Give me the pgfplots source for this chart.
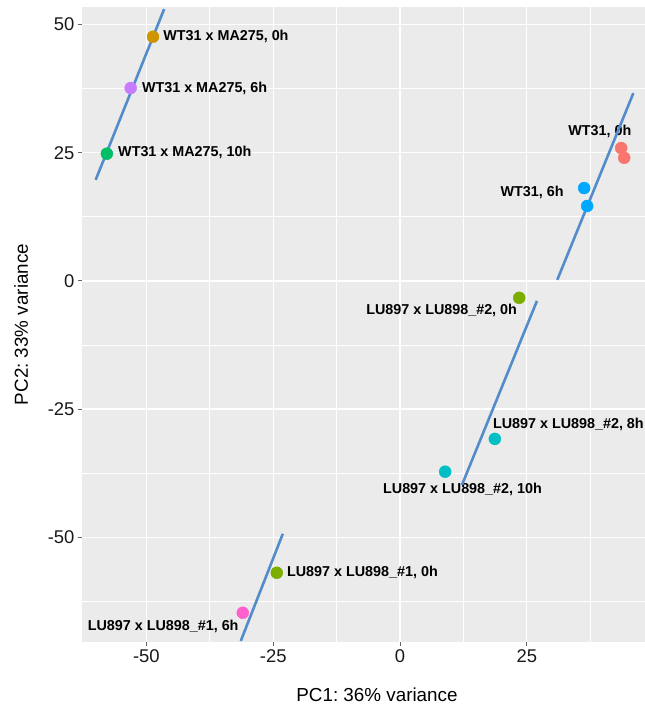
\documentclass[border=0pt]{standalone}
\usepackage{pgfplots}
\pgfplotsset{compat=1.18}
\usepackage{fontspec}
\setmainfont{Liberation Sans}
\frenchspacing
\definecolor{ggbg}{HTML}{EBEBEB}
\definecolor{cSalmon}{HTML}{F8766D}
\definecolor{cBlue}{HTML}{00A9FF}
\definecolor{cOrange}{HTML}{CD9600}
\definecolor{cPurple}{HTML}{C77CFF}
\definecolor{cGreen}{HTML}{00BE67}
\definecolor{cOlive}{HTML}{7CAE00}
\definecolor{cCyan}{HTML}{00BFC4}
\definecolor{cPink}{HTML}{FF61CC}
\definecolor{lineblue}{HTML}{548BCB}
\begin{document}
\begin{tikzpicture}
\useasboundingbox (-82bp,-64bp) rectangle (563bp,642bp);
\begin{axis}[
  scale only axis,
  width=563bp, height=635bp,
  xmin=-62.7, xmax=48.3,
  ymin=-70.4, ymax=53.4,
  axis background/.style={fill=ggbg},
  axis line style={draw=none},
  xtick={-50,-25,0,25},
  ytick={-50,-25,0,25,50},
  minor xtick={-37.5,-12.5,12.5,37.5},
  minor ytick={-62.5,-37.5,-12.5,12.5,37.5},
  grid=both,
  major grid style={white, line width=1.3bp},
  minor grid style={white, line width=0.7bp},
  tick align=outside,
  major tick length=4bp,
  minor tick length=0pt,
  tick style={color=black!60, line width=0.8bp},
  xtick pos=bottom, ytick pos=left,
  /pgf/number format/assume math mode=true,
  tick label style={font=\fontsize{18.5}{21}\selectfont, text=black!90},
  xlabel={PC1:\ 36\%\ variance},
  ylabel={PC2:\ 33\%\ variance},
  xlabel style={at={(axis description cs:0.524,-0.0715)}, anchor=north, inner sep=0pt, font=\fontsize{18.9}{21}\selectfont},
  ylabel style={at={(axis description cs:-0.0955,0.5)}, anchor=south, inner sep=0pt, font=\fontsize{18.9}{21}\selectfont},
  clip=true,
]
% points
\addplot[only marks, mark=*, mark size=6bp, color=cOrange, fill=cOrange] coordinates {(-48.7,47.6)};
\addplot[only marks, mark=*, mark size=6bp, color=cPurple, fill=cPurple] coordinates {(-53.1,37.6)};
\addplot[only marks, mark=*, mark size=6bp, color=cGreen, fill=cGreen] coordinates {(-57.8,24.8)};
\addplot[only marks, mark=*, mark size=6bp, color=cSalmon, fill=cSalmon] coordinates {(43.6,25.9) (44.2,24.0)};
\addplot[only marks, mark=*, mark size=6bp, color=cBlue, fill=cBlue] coordinates {(36.3,18.1) (36.9,14.6)};
\addplot[only marks, mark=*, mark size=6bp, color=cOlive, fill=cOlive] coordinates {(23.5,-3.3) (-24.3,-56.9)};
\addplot[only marks, mark=*, mark size=6bp, color=cCyan, fill=cCyan] coordinates {(18.7,-30.8) (8.9,-37.2)};
\addplot[only marks, mark=*, mark size=6bp, color=cPink, fill=cPink] coordinates {(-31.0,-64.7)};
% labels
\begin{scope}[every node/.style={inner sep=0pt, font=\fontsize{14.4}{16}\selectfont\bfseries}]
\node[anchor=west] at (axis cs:-46.7,47.6) {WT31 x MA275, 0h};
\node[anchor=west] at (axis cs:-50.9,37.6) {WT31 x MA275, 6h};
\node[anchor=west] at (axis cs:-55.6,25.0) {WT31 x MA275, 10h};
\node[anchor=center] at (axis cs:39.4,29.2) {WT31, 0h};
\node[anchor=east] at (axis cs:32.3,17.2) {WT31, 6h};
\node[anchor=east] at (axis cs:23.1,-5.8) {LU897 x LU898\_\#2, 0h};
\node[anchor=west] at (axis cs:18.3,-27.9) {LU897 x LU898\_\#2, 8h};
\node[anchor=east] at (axis cs:28.0,-40.7) {LU897 x LU898\_\#2, 10h};
\node[anchor=west] at (axis cs:-22.3,-56.9) {LU897 x LU898\_\#1, 0h};
\node[anchor=east] at (axis cs:-31.8,-67.4) {LU897 x LU898\_\#1, 6h};
\end{scope}
% blue guide lines
\addplot[lineblue, line width=2.6bp] coordinates {(-60.0,19.7) (-46.5,53.0)};
\addplot[lineblue, line width=2.6bp] coordinates {(31.0,0.2) (46.0,36.6)};
\addplot[lineblue, line width=2.6bp] coordinates {(12.2,-39.8) (27.0,-3.9)};
\addplot[lineblue, line width=2.6bp] coordinates {(-31.4,-70.2) (-23.1,-49.3)};
\end{axis}
\end{tikzpicture}
\end{document}
